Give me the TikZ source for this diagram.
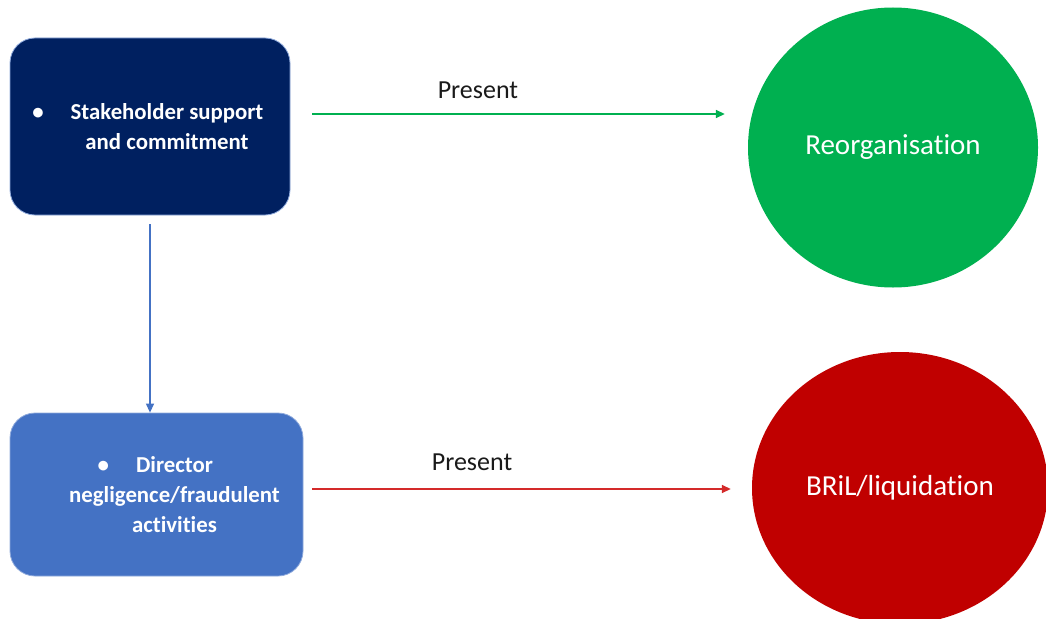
\documentclass[tikz,border=0pt]{standalone}
\usepackage{fontspec}
\setmainfont{Carlito}[Ligatures=NoCommon]
\usetikzlibrary{arrows.meta,shapes.geometric}

\definecolor{navy}{HTML}{002060}
\definecolor{midblue}{HTML}{4472C4}
\definecolor{edgeblue}{HTML}{8FAADC}
\definecolor{okgreen}{HTML}{00B050}
\definecolor{darkred}{HTML}{C00000}
\definecolor{linkred}{HTML}{D42A2A}
\definecolor{labelgray}{HTML}{1A1A1A}

\tikzset{
  factorbox/.style={rectangle, rounded corners=25pt, draw=edgeblue, line width=0.8pt,
    text=white, align=center, font=\bfseries\fontsize{22.8}{30}\selectfont},
  outcome/.style={ellipse, inner sep=0pt, text=white, font=\fontsize{29}{32}\selectfont},
  link/.style={line width=1.6pt, -{Triangle[length=9pt,width=8pt]}},
  lbl/.style={text=labelgray, font=\fontsize{26}{30}\selectfont, inner sep=0pt}
}

\newcommand{\bul}{\llap{\textbullet\hspace{27pt}}}

\begin{document}
\begin{tikzpicture}[x=1pt, y=-1pt]
  \clip (0,0) rectangle (1046,618);
  \fill[white] (0,0) rectangle (1046,618);

  % factors
  \node[factorbox, fill=navy, minimum width=280pt, minimum height=177pt] (s) at (150,126.5)
    {\hspace*{34pt}\bul Stakeholder support\\ \hspace*{34pt}and commitment};
  \node[factorbox, fill=midblue, minimum width=293pt, minimum height=163pt] (d) at (156.5,494.5)
    {\hspace*{36pt}\bul Director\\ \hspace*{36pt}negligence/fraudulent\\ \hspace*{36pt}activities};

  % outcomes
  \node[outcome, fill=okgreen, minimum width=290pt, minimum height=280pt] (r) at (893,147.5) {Reorganisation};
  \node[outcome, fill=darkred, minimum width=296pt, minimum height=272pt] (l) at (900,488) {BRiL/liquidation};

  % connectors
  \draw[link, okgreen, shorten <=22pt, shorten >=23pt]
    ([yshift=12.5pt]s.east) -- ([yshift=12.5pt]s.east -| r.west)
    node[lbl, pos=0.41, yshift=24pt] {Present};
  \draw[link, linkred, shorten <=9pt, shorten >=21pt]
    ([yshift=5.5pt]d.east) -- ([yshift=5.5pt]d.east -| l.west)
    node[lbl, pos=0.376, yshift=27pt] {Present};
  \draw[link, midblue, line width=1.2pt, shorten <=9pt]
    (s.south) -- (s.south |- d.north);
\end{tikzpicture}
\end{document}
